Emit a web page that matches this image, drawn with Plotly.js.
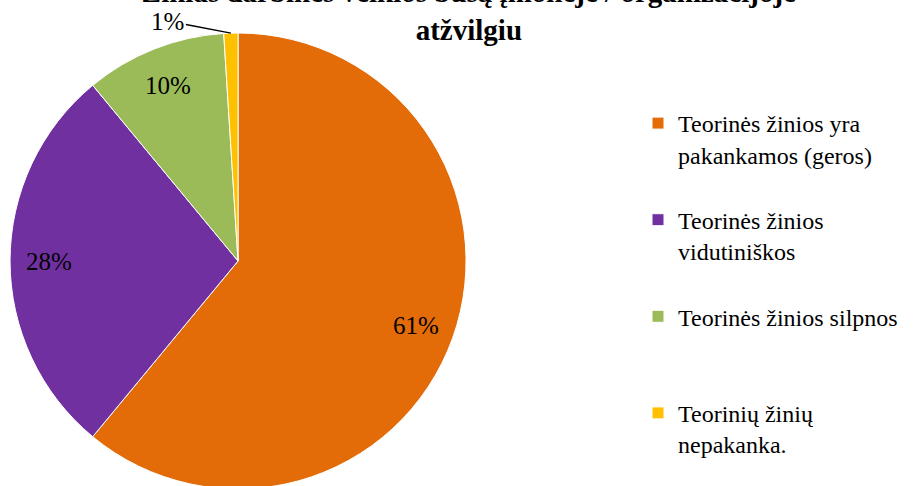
<!DOCTYPE html>
<html><head><meta charset="utf-8">
<script src="https://cdn.plot.ly/plotly-3.0.1.min.js"></script>
<style>html,body{margin:0;padding:0;overflow:hidden;background:#fff}</style>
</head><body>
<div id="chart" style="width:923px;height:489px"></div>
<script>
const categories = [
  "Teorinės žinios yra<br>pakankamos (geros)<br> ",
  "Teorinės žinios<br>vidutiniškos<br> ",
  "Teorinės žinios silpnos<br> <br> ",
  "Teorinių žinių<br>nepakanka."
];
const values = [61, 28, 10, 1];
const colors = ["#E36C09", "#7030A0", "#9BBB59", "#FFC000"];
const titleLines = ["Žinias darbinės veiklos būsą įmonėje / organizacijoje", "atžvilgiu"];

const W = 923, H = 489;
const dom = {x: [0.0108, 0.505], y: [0, 0.9325]};

// label placement derived from the data (mid-angle of each slice)
const total = values.reduce((a, b) => a + b, 0);
const cx = (dom.x[0] + dom.x[1]) / 2 * W;
const cy = (1 - (dom.y[0] + dom.y[1]) / 2) * H;
const R = (dom.y[1] - dom.y[0]) * H / 2;
const annotations = [];
let cum = 0;
values.forEach((v, i) => {
  const mid = (cum + v / 2) / total * 2 * Math.PI; // clockwise from top
  cum += v;
  const pct = Math.round(v / total * 100) + "%";
  if (v / total >= 0.05) {
    const px = cx + 0.83 * R * Math.sin(mid);
    const py = cy - 0.83 * R * Math.cos(mid);
    annotations.push({x: px / W, y: 1 - py / H, xref: "paper", yref: "paper",
      text: pct, showarrow: false, xanchor: "center", yanchor: "middle",
      font: {family: "Liberation Serif", size: 25, color: "#000"}});
  } else {
    const px = cx + R * Math.sin(mid);
    const py = cy - R * Math.cos(mid);
    annotations.push({x: px / W, y: 1 - py / H, xref: "paper", yref: "paper",
      text: pct, showarrow: true, arrowhead: 0, arrowwidth: 1.5, arrowcolor: "#000",
      ax: -63, ay: -12, standoff: 0,
      font: {family: "Liberation Serif", size: 25, color: "#000"}});
  }
});

const data = [{
  type: "pie",
  labels: categories,
  values: values,
  sort: false,
  direction: "clockwise",
  rotation: 0,
  marker: {colors: colors, line: {color: "#ffffff", width: 1}},
  textinfo: "none",
  domain: dom,
  hoverinfo: "label+percent"
}];

const layout = {
  width: W, height: H,
  margin: {l: 0, r: 0, t: 0, b: 0, autoexpand: false},
  paper_bgcolor: "#fff",
  showlegend: true,
  annotations: annotations,
  title: {
    text: "<b>" + titleLines.join("<br>") + "</b>",
    font: {family: "Liberation Serif", size: 29, color: "#000"},
    x: 0.508, xanchor: "center",
    yref: "container", y: 1 - 2/489, yanchor: "bottom"
  },
  legend: {
    x: 638/923, xanchor: "left",
    y: 1 - 101/489, yanchor: "top",
    valign: "top",
    font: {family: "Liberation Serif", size: 24, color: "#000"},
    itemwidth: 30,
    bgcolor: "rgba(0,0,0,0)"
  }
};
Plotly.newPlot("chart", data, layout, {displayModeBar: false, staticPlot: true});
</script>
</body></html>
